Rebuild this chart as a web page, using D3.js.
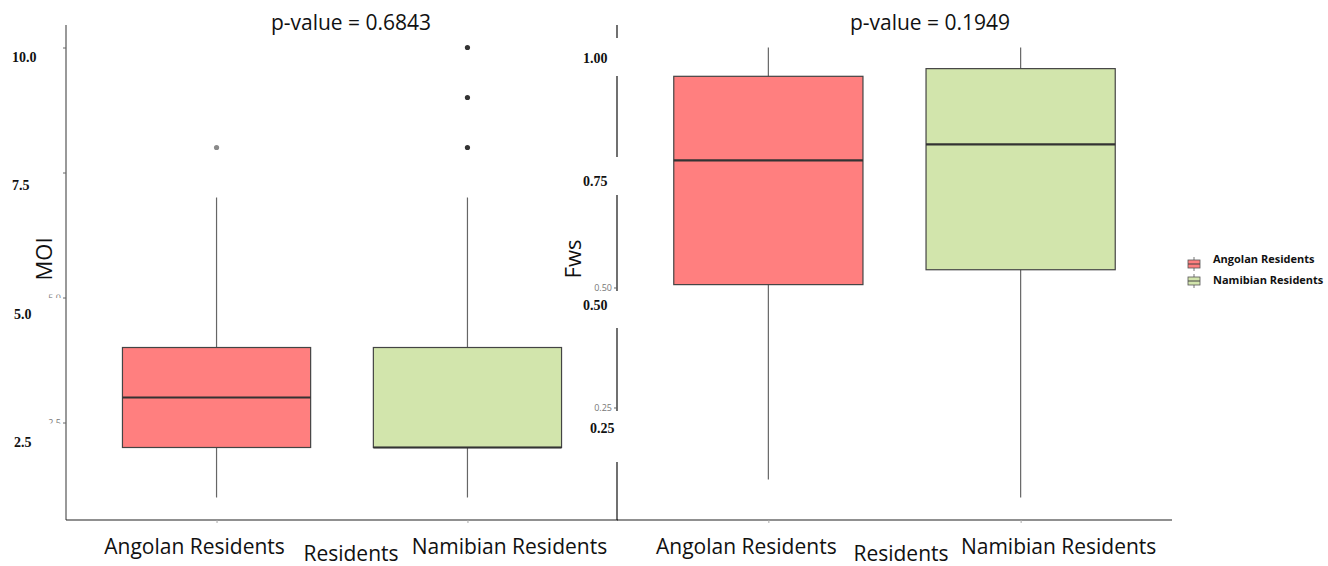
<!DOCTYPE html>
<html>
<head>
<meta charset="utf-8">
<script src="https://cdn.jsdelivr.net/npm/d3@7/dist/d3.min.js"></script>
<style>
  html, body { margin: 0; padding: 0; background: #fff; }
  svg { display: block; }
</style>
</head>
<body>
<svg id="chart" width="1328" height="566"></svg>
<script>
// ---- data ----
const groups = ["Angolan Residents", "Namibian Residents"];
const groupColors = ["#FF7F7F", "#D2E5AC"];

// MOI box statistics per group
const moiLower   = [1, 1];
const moiQ1      = [2, 2];
const moiMedian  = [3, 2];
const moiQ3      = [4, 4];
const moiUpper   = [7, 7];
const moiOutliers = [[8], [8, 9, 10]];
const moiTicks   = [2.5, 5.0, 7.5, 10.0];
const moiTickLabels = ["2.5", "5.0", "7.5", "10.0"];

// Fws box statistics per group
const fwsLower   = [0.10, 0.0625];
const fwsQ1      = [0.506, 0.537];
const fwsMedian  = [0.765, 0.798];
const fwsQ3      = [0.940, 0.956];
const fwsUpper   = [1.00, 1.00];
const fwsOutliers = [[], []];
const fwsTicks   = [0.25, 0.50, 0.75, 1.00];
const fwsTickLabels = ["0.25", "0.50", "0.75", "1.00"];

const pValues = ["0.6843", "0.1949"];
const yTitles = ["MOI", "Fws"];
const xTitle = "Residents";

// ---- drawing ----
const svg = d3.select("#chart");
const sans = "'Open Sans', 'Liberation Sans', sans-serif";
const serif = "'Liberation Serif', 'DejaVu Serif', serif";

function buildStats(lo, q1, med, q3, hi, out) {
  return groups.map((g, i) => ({ g, i, lo: lo[i], q1: q1[i], med: med[i], q3: q3[i], hi: hi[i], out: out[i] }));
}

const panels = [
  {
    stats: buildStats(moiLower, moiQ1, moiMedian, moiQ3, moiUpper, moiOutliers),
    ticks: moiTicks, tickLabels: moiTickLabels,
    yDomain: [0.55, 10.45], labelDomain: [2.5, 10.0], labelRange: [442, 57],
    left: 66, right: 618, title: pValues[0], yTitle: yTitles[0],
    titleX: 351, yTitleX: 44, boldX: 12,
    axisColor: "#555", outlierColors: ["#8a8a8a", "#333"],
    xLabelShift: [-22, 42], residentsX: 351,
    smallLabelShown: [true, true, false, false],
    // white patches laid over the tick column
    patches: [[36, 282, 27, 12.5], [36, 298, 27, 6], [36, 423.5, 27, 8]]
  },
  {
    stats: buildStats(fwsLower, fwsQ1, fwsMedian, fwsQ3, fwsUpper, fwsOutliers),
    ticks: fwsTicks, tickLabels: fwsTickLabels,
    yDomain: [0.0156, 1.0469], labelDomain: [0.25, 1.00], labelRange: [428, 58],
    left: 617, right: 1172, title: pValues[1], yTitle: yTitles[1],
    titleX: 930, yTitleX: 573, boldX: 583,
    axisColor: "#111", outlierColors: ["#333", "#333"],
    xLabelShift: [-22, 38], residentsX: 901,
    smallLabelShown: [true, true, false, false],
    patches: [[578, 38, 42, 38], [578, 157, 42, 38], [578, 291, 42, 37], [578, 411, 42, 51]]
  }
];

const plotTop = 25, plotBottom = 520;

panels.forEach((p, pi) => {
  const g = svg.append("g");
  const x = d3.scaleLinear().domain([0.4, 2.6]).range([p.left, p.right]);
  const y = d3.scaleLinear().domain(p.yDomain).range([plotBottom, plotTop]);
  const yLab = d3.scaleLinear().domain(p.labelDomain).range(p.labelRange);
  const unit = x(2) - x(1);
  const boxW = unit * 0.75;

  // y axis with small gray tick labels
  const yAxis = g.append("g")
    .attr("transform", `translate(${p.left},0)`)
    .call(d3.axisLeft(y).tickValues(p.ticks)
      .tickFormat((d, i) => p.smallLabelShown[i] ? p.tickLabels[i] : "")
      .tickSize(3).tickPadding(2));
  yAxis.select(".domain").attr("stroke", p.axisColor).attr("stroke-width", 1.2)
    .attr("d", `M0,${plotTop}V${plotBottom}`);
  yAxis.selectAll(".tick line").attr("stroke", "#666");
  yAxis.selectAll(".tick text").attr("fill", "#777").attr("font-size", 9).attr("font-family", sans);

  // x axis
  const xAxis = g.append("g")
    .attr("transform", `translate(0,${plotBottom})`)
    .call(d3.axisBottom(x).tickValues([1, 2]).tickFormat("").tickSize(3));
  xAxis.select(".domain").attr("stroke", "#222").attr("stroke-width", 1.2)
    .attr("d", `M${p.left},0H${p.right}`);
  xAxis.selectAll(".tick line").attr("stroke", "#aaa");

  // boxes
  const box = g.selectAll(".box").data(p.stats).enter().append("g");
  box.append("line")
    .attr("x1", d => x(d.i + 1)).attr("x2", d => x(d.i + 1))
    .attr("y1", d => y(d.q3)).attr("y2", d => y(d.hi))
    .attr("stroke", "#666").attr("stroke-width", 1.2);
  box.append("line")
    .attr("x1", d => x(d.i + 1)).attr("x2", d => x(d.i + 1))
    .attr("y1", d => y(d.q1)).attr("y2", d => y(d.lo))
    .attr("stroke", "#666").attr("stroke-width", 1.2);
  box.append("rect")
    .attr("x", d => x(d.i + 1) - boxW / 2).attr("width", boxW)
    .attr("y", d => y(d.q3)).attr("height", d => y(d.q1) - y(d.q3))
    .attr("fill", d => groupColors[d.i]).attr("stroke", "#444").attr("stroke-width", 1.2);
  box.append("line")
    .attr("x1", d => x(d.i + 1) - boxW / 2).attr("x2", d => x(d.i + 1) + boxW / 2)
    .attr("y1", d => y(d.med)).attr("y2", d => y(d.med))
    .attr("stroke", "#333").attr("stroke-width", 2.2);
  box.each(function (d) {
    d3.select(this).selectAll("circle").data(d.out).enter().append("circle")
      .attr("cx", x(d.i + 1)).attr("cy", v => y(v)).attr("r", 2.6)
      .attr("fill", p.outlierColors[d.i]);
  });

  // white patches over the tick column
  p.patches.forEach(r => {
    g.append("rect").attr("x", r[0]).attr("y", r[1]).attr("width", r[2]).attr("height", r[3])
      .attr("fill", "#fff");
  });

  // bold serif tick labels
  g.selectAll(".boldLab").data(p.ticks).enter().append("text")
    .attr("x", (d, i) => p.boldX + (pi === 1 && i === 0 ? 7 : 0) + (pi === 0 && d < 7 ? 2 : 0))
    .attr("y", d => yLab(d))
    .attr("dy", "0.35em")
    .attr("font-family", serif).attr("font-weight", "bold").attr("font-size", 14)
    .attr("fill", "#111")
    .text((d, i) => p.tickLabels[i]);

  // title
  g.append("text").attr("x", p.titleX).attr("y", 30).attr("text-anchor", "middle")
    .attr("font-family", sans).attr("font-size", 21).attr("fill", "#111").text("p-value = " + p.title);

  // y title
  g.append("text").attr("transform", `translate(${p.yTitleX + 8},${259}) rotate(-90)`)
    .attr("text-anchor", "middle").attr("font-family", sans).attr("font-size", 22).attr("fill", "#111")
    .text(p.yTitle);

  // x category labels
  groups.forEach((name, i) => {
    g.append("text").attr("x", x(i + 1) + p.xLabelShift[i]).attr("y", 554).attr("text-anchor", "middle")
      .attr("font-family", sans).attr("font-size", 21).attr("fill", "#111").text(name);
  });
  g.append("text").attr("x", p.residentsX).attr("y", 561).attr("text-anchor", "middle")
    .attr("font-family", sans).attr("font-size", 21).attr("fill", "#111").text(xTitle);
});

// legend
const legend = svg.append("g").attr("transform", "translate(1188,0)");
const legendTextY = [259, 280];
const legendKeyY = [264, 281];
groups.forEach((name, i) => {
  const k = legend.append("g").attr("transform", `translate(0,${legendKeyY[i]})`);
  k.append("line").attr("x1", 6).attr("x2", 6).attr("y1", -7).attr("y2", 7).attr("stroke", "#777").attr("stroke-width", 1);
  k.append("rect").attr("x", 0).attr("y", -4).attr("width", 12).attr("height", 8)
    .attr("fill", groupColors[i]).attr("stroke", "#555").attr("stroke-width", 0.8);
  k.append("line").attr("x1", 0).attr("x2", 12).attr("y1", 0).attr("y2", 0).attr("stroke", "#444").attr("stroke-width", 1);
  legend.append("text").attr("x", 25).attr("y", legendTextY[i]).attr("dy", "0.35em")
    .attr("font-family", sans).attr("font-weight", "bold").attr("font-size", 11).attr("fill", "#111").text(name);
});
</script>
</body>
</html>
